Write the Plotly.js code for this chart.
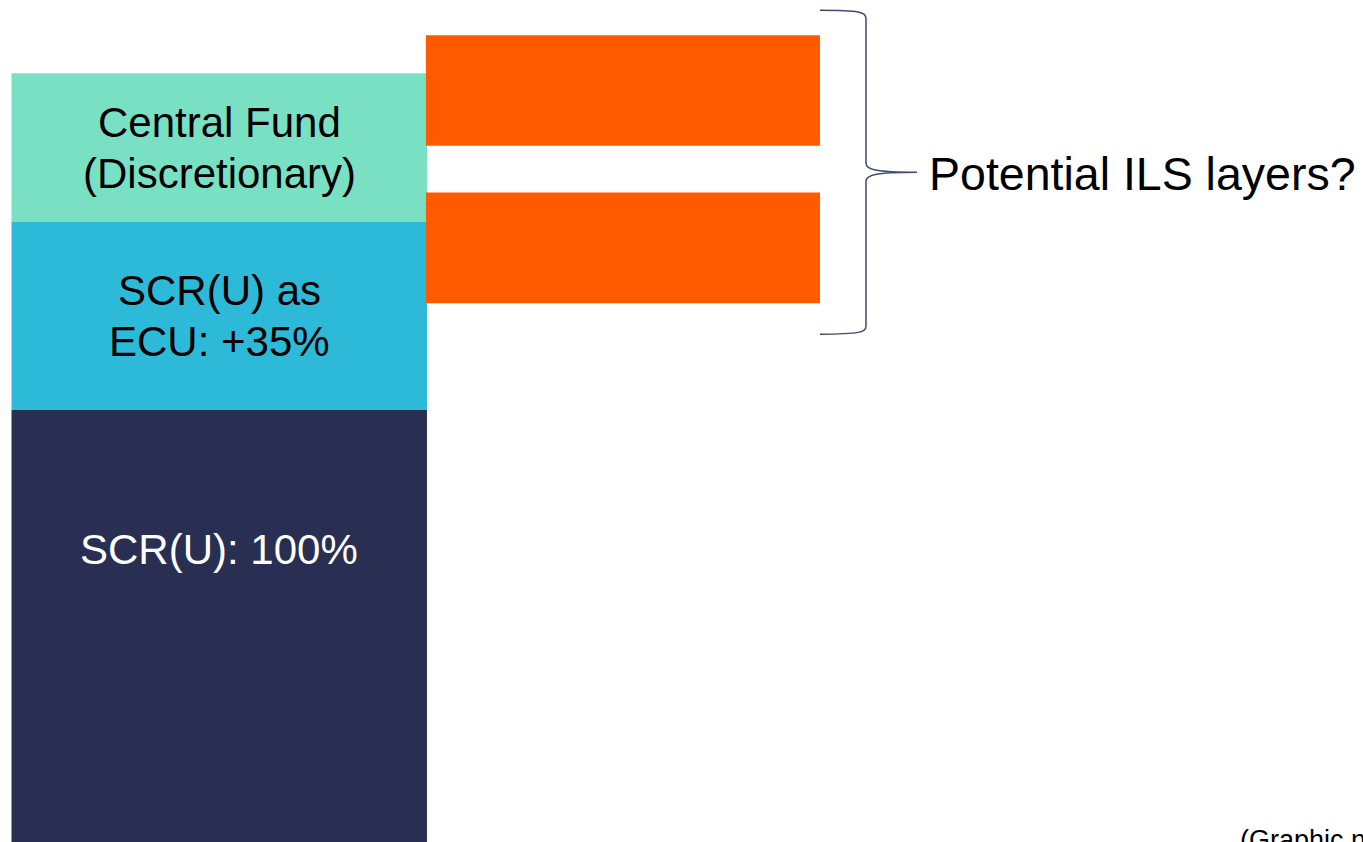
<!DOCTYPE html>
<html><head><meta charset="utf-8">
<script src="https://cdn.plot.ly/plotly-3.0.1.min.js"></script>
<style>html,body{margin:0;padding:0;background:#fff;overflow:hidden}#chart{width:1363px;height:842px}</style>
</head><body><div id="chart"></div>
<script>
// ---- Data (capital layers, % of SCR(U)) ----
const stackNames = ['SCR(U)', 'ECU uplift', 'Central Fund'];
const stackValues = [100, 35, 27.7];
const stackLines = [['SCR(U): 100%'], ['SCR(U) as', 'ECU: +35%'], ['Central Fund', '(Discretionary)']];
const ilsNames = ['ILS layer 1', 'ILS layer 2'];
const ilsBase = [119.9, 149.2];
const ilsValues = [20.6, 20.6];
const braceLabel = 'Potential ILS layers?';
const footnote = '(Graphic not to scale)';

// ---- Styles / layout ----
const W = 1363, H = 842;
const xr = [-0.543, 2.833], yr = [19.55, 176.35];
const pxX = W / (xr[1] - xr[0]);   // px per x unit
const pxY = H / (yr[1] - yr[0]);   // px per y unit
const stackColors = ['#282f53', '#2dbad8', '#7ae0c4'];
const textColors = ['#ffffff', '#000000', '#000000'];
const ilsColor = '#ff5a00';
const stackWidth = 1.029, ilsWidth = 0.976;
const FONT = 'Liberation Sans, Arial, Helvetica, sans-serif';
const boxFont = 42, lineGapPx = 51;

const traces = [];
const annotations = [];
let cum = 0;
stackValues.forEach((v, i) => {
  traces.push({
    type: 'bar', name: stackNames[i], x: [0], y: [v], base: [cum], width: [stackWidth],
    marker: {color: stackColors[i], line: {width: 0}}, hoverinfo: 'skip'
  });
  // label centre: segment middle, except the first (cut-off) segment
  const yc = i === 0 ? cum + v - 140 / pxY : cum + v / 2;
  const lines = stackLines[i];
  lines.forEach((t, k) => {
    const off = (k - (lines.length - 1) / 2) * lineGapPx / pxY;
    annotations.push({
      x: 0, y: yc - off, xref: 'x', yref: 'y', text: t, showarrow: false,
      xanchor: 'center', yanchor: 'middle',
      font: {family: FONT, size: boxFont, color: textColors[i]}
    });
  });
  cum += v;
});
traces.push({
  type: 'bar', name: 'ILS', x: ilsValues.map(() => 1), y: ilsValues, base: ilsBase,
  width: ilsValues.map(() => ilsWidth), marker: {color: ilsColor, line: {width: 0}},
  hoverinfo: 'skip', text: ilsNames, textposition: 'none'
});

// ---- Brace around ILS layers ----
const ilsTop = Math.max(...ilsValues.map((v, i) => v + ilsBase[i]));
const ilsBot = Math.min(...ilsBase);
const X0 = 1 + ilsWidth / 2;
const yT = ilsTop + 25 / pxY, yB = ilsBot - 31 / pxY, yM = (yT + yB) / 2;
const dx = p => p / pxX, dy = p => p / pxY;
const XB = X0 + dx(46), XT = X0 + dx(97);
const P = (x, y) => x + ',' + y;
const path = [
  'M', P(X0, yT),
  'C', P(X0 + dx(40), yT), P(XB, yT - dy(2)), P(XB, yT - dy(8)),
  'L', P(XB, yM + dy(9)),
  'C', P(XB, yM + dy(3)), P(XB + dx(8), yM), P(XT, yM),
  'C', P(XB + dx(8), yM), P(XB, yM - dy(3)), P(XB, yM - dy(9)),
  'L', P(XB, yB + dy(8)),
  'C', P(XB, yB + dy(2)), P(X0 + dx(40), yB), P(X0, yB)
].join(' ');

annotations.push({
  x: XT + dx(10), y: yM - dy(2), xref: 'x', yref: 'y', text: braceLabel, showarrow: false,
  xanchor: 'left', yanchor: 'middle', font: {family: FONT, size: 46.5, color: '#000000'}
});
annotations.push({
  x: 1238 / W, y: 1 - 823 / H, xref: 'paper', yref: 'paper', text: footnote, showarrow: false,
  xanchor: 'left', yanchor: 'top', font: {family: FONT, size: 27, color: '#000000'}
});

const layout = {
  width: W, height: H, margin: {l: 0, r: 0, t: 0, b: 0, pad: 0},
  paper_bgcolor: '#ffffff', plot_bgcolor: '#ffffff',
  barmode: 'overlay', showlegend: false,
  xaxis: {range: xr, visible: false, fixedrange: true},
  yaxis: {range: yr, visible: false, fixedrange: true},
  shapes: [{type: 'path', path: path, xref: 'x', yref: 'y',
            line: {color: '#414a73', width: 1.5}, fillcolor: 'rgba(0,0,0,0)'}],
  annotations: annotations
};
Plotly.newPlot('chart', traces, layout, {staticPlot: true, displayModeBar: false});
</script>
</body></html>
